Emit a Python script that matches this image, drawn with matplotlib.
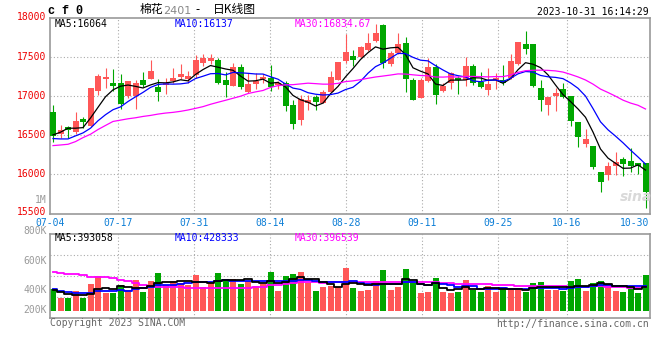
import numpy as np
import pandas as pd
import matplotlib
matplotlib.use('Agg')
import matplotlib.pyplot as plt

# daily candles, 2023-07-04 .. 2023-10-31 (80 trading days)
opens = [16794, 16520, 16597, 16537, 16708, 16610, 17060, 17219, 17159, 17167,
         16996, 17004, 17197, 17210, 17111, 17137, 17189, 17240, 17219, 17262,
         17424, 17446, 17454, 17197, 17124, 17369, 17051, 17154, 17210, 17232,
         17133, 17167, 16889, 16687, 16910, 16991, 16914, 17047, 17197, 17446,
         17510, 17497, 17587, 17694, 17905, 17412, 17544, 17673, 17197, 16974,
         17189, 17369, 17060, 17167, 17232, 17197, 17382, 17176, 17081, 17197,
         17201, 17223, 17403, 17660, 17660, 17103, 16889, 16996, 17094, 16996,
         16661, 16387, 16361, 16031, 15988, 16108, 16194, 16168, 16147, 16147]
highs = [16880, 16631, 16618, 16794, 16734, 17107, 17283, 17360, 17339, 17274,
         17184, 17197, 17309, 17454, 17210, 17231, 17352, 17412, 17317, 17523,
         17540, 17532, 17489, 17309, 17424, 17412, 17296, 17296, 17274, 17390,
         17189, 17189, 16953, 17017, 17017, 17017, 17069, 17317, 17433, 17789,
         17583, 17639, 17802, 17917, 17917, 17574, 17802, 17746, 17232, 17232,
         17489, 17403, 17167, 17309, 17253, 17497, 17403, 17309, 17360, 17296,
         17390, 17532, 17686, 17832, 17660, 17201, 16983, 17103, 17167, 16996,
         16661, 16580, 16361, 16031, 16160, 16288, 16224, 16331, 16147, 16147]
lows = [16417, 16468, 16460, 16511, 16588, 16597, 17017, 17103, 17060, 16833,
        16974, 16833, 17111, 17210, 16936, 17026, 17159, 17210, 17167, 17231,
        17382, 17403, 17146, 16983, 17124, 17094, 17039, 17094, 17167, 17060,
        17094, 16811, 16580, 16623, 16816, 16816, 16914, 17047, 17197, 17424,
        17382, 17489, 17574, 17690, 17352, 17382, 17532, 17047, 16953, 16974,
        17176, 16897, 17051, 17094, 17026, 17124, 17133, 17103, 17017, 17094,
        17137, 17210, 17390, 17532, 17111, 16811, 16760, 16811, 16974, 16610,
        16353, 16353, 16065, 15774, 15924, 15997, 15980, 16031, 16010, 15568]
closes = [16494, 16567, 16567, 16683, 16666, 17107, 17249, 17240, 17124, 16897,
          17184, 17163, 17137, 17317, 17047, 17167, 17223, 17274, 17249, 17454,
          17480, 17480, 17167, 17137, 17369, 17116, 17154, 17189, 17240, 17111,
          17167, 16867, 16644, 16966, 16953, 16927, 17051, 17240, 17433, 17562,
          17459, 17626, 17677, 17802, 17416, 17544, 17660, 17219, 16953, 17201,
          17369, 17017, 17124, 17296, 17197, 17382, 17159, 17111, 17146, 17223,
          17167, 17446, 17686, 17596, 17124, 16953, 16983, 17039, 16983, 16683,
          16481, 16451, 16095, 15903, 16104, 16151, 16130, 16108, 16108, 15774]
volumes = [362000, 217000, 217000, 334000, 217000, 457000, 585000, 307000, 307000, 435000,
           351000, 518000, 318000, 502000, 636000, 435000, 502000, 474000, 435000, 602000,
           396000, 474000, 636000, 518000, 535000, 452000, 502000, 418000, 452000, 652000,
           334000, 585000, 619000, 652000, 463000, 334000, 396000, 418000, 396000, 725000,
           385000, 334000, 351000, 502000, 686000, 351000, 401000, 702000, 463000, 301000,
           318000, 552000, 318000, 301000, 318000, 518000, 351000, 318000, 418000, 318000,
           401000, 351000, 351000, 318000, 468000, 485000, 351000, 351000, 334000, 502000,
           535000, 334000, 468000, 502000, 452000, 334000, 318000, 418000, 301000, 602000]

# moving averages before enough history is visible
ma5_head = [16503, 16537, 16588, 16588]
ma10_head = [16456, 16451, 16451, 16490, 16528, 16588, 16683, 16760, 16824]
ma30_head = [16366, 16374, 16383, 16417, 16468, 16511, 16571, 16623, 16674, 16691,
             16708, 16721, 16738, 16751, 16768, 16781, 16790, 16803, 16820, 16841,
             16863, 16893, 16919, 16944, 16970, 16996, 17030, 17051, 17069]
vma5_head = [345650, 317775, 278750, 262025]
vma10_head = [373525, 334500, 312200, 301050, 295475, 306625, 328925, 334500, 334500]
vma30_head = [652275, 635550, 624400, 613250, 596525, 574225, 574225, 563075, 546350, 524050,
              501750, 462725, 429275, 418125, 401400, 395825, 395825, 395825, 390250, 384675,
              379100, 379100, 379100, 384675, 384675, 384675, 390250, 401400, 406975]

price_levels = [18000, 17500, 17000, 16500, 16000, 15500]
tick_labels = ['07-04', '07-17', '07-31', '08-14', '08-28', '09-11', '09-25', '10-16', '10-30']
tick_index = [0, 9, 19, 29, 39, 49, 59, 68, 78]

RED = '#ff5757'
GREEN = '#00a600'
GRID = '#aaaaaa'
BORDER = '#999999'
DATE_BLUE = '#0b7dd6'
MONO = 'DejaVu Sans Mono'
CJK = ['Noto Sans CJK SC', 'DejaVu Sans']


def with_head(values, n, head):
    s = pd.Series(values, dtype=float).rolling(n).mean()
    s.iloc[:len(head)] = head
    return s.values


o = np.array(opens)
c = np.array(closes)
x = np.arange(len(c))
colors = np.where(c >= o, RED, GREEN)

ma5 = with_head(closes, 5, ma5_head)
ma10 = with_head(closes, 10, ma10_head)
ma30 = with_head(closes, 30, ma30_head)
vma5 = with_head(volumes, 5, vma5_head)
vma10 = with_head(volumes, 10, vma10_head)
vma30 = with_head(volumes, 30, vma30_head)

W, H = 660, 360
fig = plt.figure(figsize=(W / 100, H / 100), dpi=100)


def fx(px):
    return px / W


def fy(py):
    return 1 - py / H


ax = fig.add_axes([fx(50), fy(213.5), fx(600), (213.5 - 17.5) / H])
ax2 = fig.add_axes([fx(50), fy(318), fx(600), 84 / H])

# sina spaces its date grid a touch wider than the candles
grid_x = [i * 7.6 / 7.5 - 0.4 for i in tick_index]

for a in (ax, ax2):
    a.set_xlim(-0.4, 79.6)
    for gx in grid_x[1:-1]:
        a.axvline(gx, color=GRID, lw=0.8, ls=(0, (1, 2)), zorder=0)
    for s in a.spines.values():
        s.set_color(BORDER)
        s.set_linewidth(1.2)
    a.set_xticks([])
    a.set_yticks([])

# price panel
ax.set_ylim(15500, 18000)
for lvl in price_levels[1:-1]:
    ax.axhline(lvl, color=GRID, lw=0.8, ls=(0, (1, 2)), zorder=0)
ax.vlines(x, lows, highs, colors=colors, lw=0.8, zorder=2)
body = np.maximum(np.abs(c - o), 13)
ax.bar(x, body, bottom=np.minimum(o, c), width=0.8, color=colors, linewidth=0, zorder=3)
ax.plot(x, ma5, color='black', lw=0.9, zorder=4)
ax.plot(x, ma10, color='#0000ff', lw=0.9, zorder=4)
ax.plot(x, ma30, color='#ff00ff', lw=0.9, zorder=4)

ytrans = ax.get_yaxis_transform()
for lvl in price_levels:
    # bottom label sits a little higher so it clears the date row
    yy = lvl + 25 if lvl == price_levels[-1] else lvl
    ax.text(-0.006, yy, str(lvl), transform=ytrans, color='#ee0000', fontsize=7,
            family=MONO, ha='right', va='center')

ax.text(0.008, 0.965, 'MA5:16064', transform=ax.transAxes, color='black',
        fontsize=7, family=MONO, va='center')
ax.text(0.207, 0.965, 'MA10:16137', transform=ax.transAxes, color='#0000ff',
        fontsize=7, family=MONO, va='center')
ax.text(0.408, 0.965, 'MA30:16834.67', transform=ax.transAxes, color='#ff00ff',
        fontsize=7, family=MONO, va='center')
ax.text(0.977, 0.085, 'sina', transform=ax.transAxes, color='#d9d9d9',
        fontsize=10, style='italic', weight='bold', ha='center', va='center')

trans = ax.get_xaxis_transform()
for gx, lab in zip(grid_x, tick_labels):
    if lab == tick_labels[-1]:
        ax.text(79.5, -0.048, lab, transform=trans, color=DATE_BLUE, fontsize=7,
                family=MONO, ha='right', va='center')
    else:
        ax.text(gx, -0.048, lab, transform=trans, color=DATE_BLUE, fontsize=7,
                family=MONO, ha='center', va='center')

# volume panel
vlo, vhi = -117000, 1288000
ax2.set_ylim(vlo, vhi)
for f in (0.25, 0.5, 0.75):
    ax2.axhline(vlo + f * (vhi - vlo), color=GRID, lw=0.8, ls=(0, (1, 2)), zorder=0)
ax2.bar(x, volumes, width=0.8, color=colors, linewidth=0, zorder=2)
ax2.plot(x, vma30, color='#ff00ff', lw=1.3, drawstyle='steps-mid', zorder=3)
ax2.plot(x, vma10, color='#0000ff', lw=1.3, drawstyle='steps-mid', zorder=4)
ax2.plot(x, vma5, color='black', lw=1.3, drawstyle='steps-mid', zorder=5)

ax2.text(0.008, 0.95, 'MA5:393058', transform=ax2.transAxes, color='black',
         fontsize=7, family=MONO, va='center')
ax2.text(0.208, 0.95, 'MA10:428333', transform=ax2.transAxes, color='#0000ff',
         fontsize=7, family=MONO, va='center')
ax2.text(0.408, 0.95, 'MA30:396539', transform=ax2.transAxes, color='#ff00ff',
         fontsize=7, family=MONO, va='center')

for lab, py in [('800K', 231), ('600K', 261), ('400K', 290), ('200K', 310)]:
    fig.text(fx(46.5), fy(py), lab, color='#9a9a9a', fontsize=7, family=MONO,
             ha='right', va='center')
fig.text(fx(46.5), fy(200), '1M', color='#9a9a9a', fontsize=7, family=MONO,
         ha='right', va='center')

# header
fig.text(fx(48), fy(11), 'c f 0', fontsize=8.5, family='Liberation Mono',
         weight='bold', va='center')
fig.text(fx(140), fy(10), '棉花', fontsize=8.5, family=CJK, va='center')
fig.text(fx(163.5), fy(10.5), '2401', fontsize=8, family='DejaVu Sans',
         color='#888888', va='center')
fig.text(fx(195), fy(10), '-', fontsize=8.5, family=CJK, va='center')
fig.text(fx(213), fy(10), '日K线图', fontsize=8.5, family=CJK, va='center')
fig.text(fx(649), fy(12), '2023-10-31 16:14:29', fontsize=7, family=MONO,
         ha='right', va='center')

# footer
fig.text(fx(50), fy(323.5), 'Copyright 2023 SINA.COM', fontsize=7, family=MONO,
         color='#666666', va='center')
fig.text(fx(649), fy(324), 'http://finance.sina.com.cn', fontsize=7, family=MONO,
         color='#666666', ha='right', va='center')

fig.savefig('out.png', dpi=100, facecolor='white')
